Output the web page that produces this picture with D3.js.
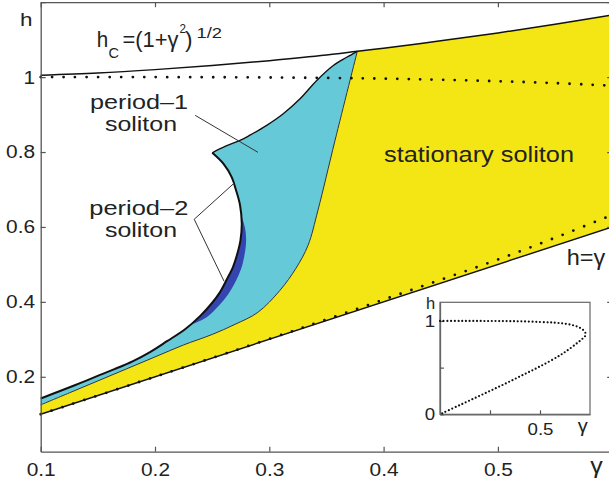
<!DOCTYPE html>
<html><head><meta charset="utf-8">
<script src="https://cdn.jsdelivr.net/npm/d3@7"></script>
<style>
body{margin:0;background:#fff;}
svg{display:block;font-family:"Liberation Sans",Arial,Helvetica,sans-serif;}
</style>
</head><body>
<svg id="c" width="609" height="485"></svg>
<script>
// ---------- data ----------
// critical field h_c = (1+gamma^2)^(1/2)
const gammaHc = [0.1,0.15,0.2,0.25,0.3,0.35,0.377,0.4,0.45,0.5,0.55,0.6];
const hHc     = [1.005,1.011,1.020,1.031,1.044,1.059,1.069,1.077,1.097,1.118,1.141,1.166];
// h = gamma (solid)
const gammaDiag = [0.1,0.6];
const hDiag     = [0.1,0.6];
// dotted branches (upper and lower)
const gammaUpperDot = [0.1,0.2,0.3,0.4,0.45,0.5,0.55,0.6];
const hUpperDot     = [1.0,1.0,0.999,0.996,0.993,0.989,0.984,0.977];
const gammaLowerDot = [0.1,0.2,0.3,0.35,0.4,0.45,0.5,0.55,0.6];
const hLowerDot     = [0.1,0.2,0.301,0.353,0.406,0.459,0.513,0.571,0.632];
// boundary between period-1 (cyan) and stationary (yellow) region, top -> bottom-left
const gammaStatB = [0.377,0.3575,0.3426,0.3339,0.3234,0.3094,0.29,0.27,0.25,0.225,0.2,0.175,0.15,0.125,0.1];
const hStatB     = [1.069,0.831,0.645,0.551,0.490,0.431,0.372,0.340,0.313,0.285,0.253,0.221,0.189,0.157,0.125];
// upper edge of the period-1 region, top -> cusp
const gammaP1Top = [0.377,0.3677,0.356,0.3415,0.3269,0.3122,0.2977,0.2831,0.2744,0.2613,0.2501];
const hP1Top     = [1.069,1.053,1.031,0.991,0.942,0.902,0.871,0.845,0.831,0.815,0.798];
// outer (left) edge of the soliton region, cusp -> bottom-left
const gammaOuter = [0.2501,0.2598,0.2671,0.2709,0.2744,0.2759,0.2748,0.2717,0.2682,0.2630,0.2569,0.2499,0.2394,0.2263,0.2105,0.1956,0.1808,0.1650,0.1519,0.1344,0.1169,0.1];
const hOuter     = [0.798,0.769,0.733,0.698,0.658,0.610,0.565,0.525,0.493,0.461,0.426,0.397,0.362,0.327,0.295,0.266,0.242,0.221,0.205,0.183,0.162,0.142];
// inner edge of the period-2 (dark blue) sliver, top -> bottom
const gammaBlueIn = [0.2754,0.2788,0.2797,0.2781,0.2752,0.2703,0.2642,0.2562,0.2452,0.2306];
const hBlueIn     = [0.631,0.597,0.562,0.522,0.487,0.453,0.421,0.391,0.359,0.338];
// inset curve
const gammaInset = [0,0.1,0.2,0.3,0.4,0.5,0.57,0.62,0.66,0.69,0.71,0.722,0.728,0.726,0.715,0.69,0.65,0.6,0.5,0.4,0.3,0.2,0.1,0];
const hInset     = [1,1,1,0.999,0.996,0.989,0.982,0.972,0.957,0.937,0.913,0.89,0.865,0.84,0.815,0.77,0.705,0.632,0.513,0.406,0.301,0.2,0.1,0];
// ticks
const xTicks = [0.1,0.2,0.3,0.4,0.5,0.6];
const yTicks = [0.2,0.4,0.6,0.8,1,1.2];
const insetXTicks = [0.25,0.5];
const insetYTicks = [0,0.5,1];

// ---------- drawing ----------
const svg = d3.select("#c");
svg.append("rect").attr("width",609).attr("height",485).attr("fill","#fff");
const x = d3.scaleLinear().domain([0.1,0.6]).range([40.7,612.2]);
const y = d3.scaleLinear().domain([0,1.2]).range([451.7,2.2]);
const zip = (g,h)=>g.map((v,i)=>[v,h[i]]);
const lin = d3.line().x(d=>x(d[0])).y(d=>y(d[1]));
const cr  = d3.line().x(d=>x(d[0])).y(d=>y(d[1])).curve(d3.curveCatmullRom.alpha(0.5));
const join = (...p)=>p.map((s,i)=>i===0?s:s.replace(/^M/,"L")).join("")+"Z";

const hc = zip(gammaHc,hHc), diag = zip(gammaDiag,hDiag);
const statB = zip(gammaStatB,hStatB), p1Top = zip(gammaP1Top,hP1Top), outer = zip(gammaOuter,hOuter);
const blueIn = zip(gammaBlueIn,hBlueIn);

const YEL="#f4e614", CYAN="#66c9d8", BLUE="#3445b0";

// yellow (stationary)
svg.append("path").attr("fill",YEL)
  .attr("d", join(lin(diag), cr(hc.filter(d=>d[0]>=0.377).reverse()), cr(statB)));
// cyan (period-1)
svg.append("path").attr("fill",CYAN)
  .attr("d", join(cr(p1Top), cr(outer), cr(statB.slice().reverse())));
// dark blue sliver (period-2)
const bOut = outer.filter(d=>d[1]<0.631 && d[1]>0.338);
svg.append("path").attr("fill",BLUE)
  .attr("d", join(cr([blueIn[0],...bOut,blueIn[blueIn.length-1]]), cr(blueIn.slice().reverse())));

// boundaries
svg.append("path").attr("d",cr(statB)).attr("fill","none").attr("stroke","#333").attr("stroke-width",1);
svg.append("path").attr("d",cr(p1Top)).attr("fill","none").attr("stroke","#111").attr("stroke-width",1.4);
svg.append("path").attr("d",cr(outer)).attr("fill","none").attr("stroke","#111").attr("stroke-width",2);
svg.append("path").attr("d",cr(hc)).attr("fill","none").attr("stroke","#111").attr("stroke-width",1.5);
svg.append("path").attr("d",lin(diag)).attr("fill","none").attr("stroke","#111").attr("stroke-width",1.4);
// dotted
[zip(gammaUpperDot,hUpperDot), zip(gammaLowerDot,hLowerDot)].forEach(p=>{
  svg.append("path").attr("d",cr(p)).attr("fill","none").attr("stroke","#111")
    .attr("stroke-width",2.8).attr("stroke-linecap","round").attr("stroke-dasharray","0 11.5");
});

// axes
const AX="#555", TXT="#222";
function styleAxis(g, fs, sx){
  g.select(".domain").attr("stroke",AX).attr("stroke-width",1.3);
  g.selectAll(".tick line").attr("stroke",AX).attr("stroke-width",1.2);
  g.selectAll(".tick text").attr("fill",TXT).attr("font-size",fs).attr("font-family","Liberation Sans, Arial, sans-serif")
    .attr("transform",`scale(${sx},1)`);
}
const gl = svg.append("g").attr("transform",`translate(${x(0.1)},0)`)
  .call(d3.axisLeft(y).tickValues(yTicks).tickSizeInner(-5).tickSizeOuter(0).tickPadding(5)
    .tickFormat(d=>d>1.1?"":d3.format("~g")(d)));
styleAxis(gl,18.5,1.13);
const gb = svg.append("g").attr("transform",`translate(0,${y(0)})`)
  .call(d3.axisBottom(x).tickValues(xTicks).tickSizeInner(-5).tickSizeOuter(0).tickPadding(11.5)
    .tickFormat(d=>d>0.55?"":d3.format(".1f")(d)));
styleAxis(gb,18.5,1.13);
const gt = svg.append("g").attr("transform",`translate(0,${y(1.2)})`)
  .call(d3.axisTop(x).tickValues(xTicks).tickSizeInner(-5).tickSizeOuter(0).tickFormat(""));
styleAxis(gt,18.5,1.13);
const gr = svg.append("g").attr("transform",`translate(${x(0.6)},0)`)
  .call(d3.axisRight(y).tickValues(yTicks).tickSizeInner(-5).tickSizeOuter(0).tickFormat(""));
styleAxis(gr,18.5,1.13);

// texts
function txt(xp,yp,str,fs,len,anchor){
  const t = svg.append("text").attr("x",xp).attr("y",yp).attr("font-size",fs).attr("fill",TXT)
    .attr("text-anchor",anchor||"start").text(str);
  if(len) t.attr("textLength",len).attr("lengthAdjust","spacingAndGlyphs");
  return t;
}
txt(26.3,26,"h",19,12.5,"middle");
txt(596.5,473,"γ",22,12.5,"middle");

// annotations
txt(90,109,"period–1",20.5,98);
txt(105,130.5,"soliton",20.5,72);
txt(89.3,215,"period–2",20.5,99);
txt(105,236.5,"soliton",20.5,72);
txt(384,161.7,"stationary soliton",22.5,190);
txt(566.7,265,"h=γ",22,38.5);
// h_C = (1+γ^2)^1/2
txt(96.7,46.7,"h",22,11.5);
txt(108.5,58,"C",15,10.5);
txt(122.5,46.7,"=(1+γ",22,56);
txt(179.5,32.5,"2",12,6.5);
txt(185,46.7,")",22,7.5);
txt(196.5,38,"1/2",15,25.5);

// pointer lines
const ptr = [
  [[0.2352,0.8979],[0.2901,0.7992]],
  [[0.2691,0.7165],[0.2343,0.6205],[0.2604,0.4552]]
];
ptr.forEach(p=>svg.append("path").attr("d",lin(p)).attr("fill","none").attr("stroke","#333").attr("stroke-width",1));

// inset
const xi = d3.scaleLinear().domain([0,0.75]).range([440,590]);
const yi = d3.scaleLinear().domain([0,1.2]).range([414.3,302.3]);
const ins = svg.append("g");
ins.append("rect").attr("x",xi(0)).attr("y",yi(1.2)).attr("width",xi(0.75)-xi(0)).attr("height",yi(0)-yi(1.2))
  .attr("fill","#fff").attr("stroke","#666").attr("stroke-width",1.2);
const il = ins.append("g").attr("transform",`translate(${xi(0)},0)`)
  .call(d3.axisLeft(yi).tickValues(insetYTicks).tickSizeInner(-4).tickSizeOuter(0).tickPadding(4.5)
    .tickFormat(d=>d===0.5?"":d3.format("~g")(d)));
styleAxis(il,17,1.1);
il.select(".domain").attr("stroke","#666");
const ib = ins.append("g").attr("transform",`translate(0,${yi(0)})`)
  .call(d3.axisBottom(xi).tickValues(insetXTicks).tickSizeInner(-4).tickSizeOuter(0).tickPadding(8.5)
    .tickFormat(d=>d===0.5?"0.5":""));
styleAxis(ib,17,1.1);
ib.select(".domain").attr("stroke","#666");
const icr = d3.line().x(d=>xi(d[0])).y(d=>yi(d[1])).curve(d3.curveCatmullRom.alpha(0.5));
ins.append("path").attr("d",icr(zip(gammaInset,hInset))).attr("fill","none").attr("stroke","#111")
  .attr("stroke-width",2.2).attr("stroke-linecap","round").attr("stroke-dasharray","0 3.7");
txt(430.5,309,"h",16.5,null,"middle");
txt(582.7,432,"γ",18,10,"middle");
</script>
</body></html>
